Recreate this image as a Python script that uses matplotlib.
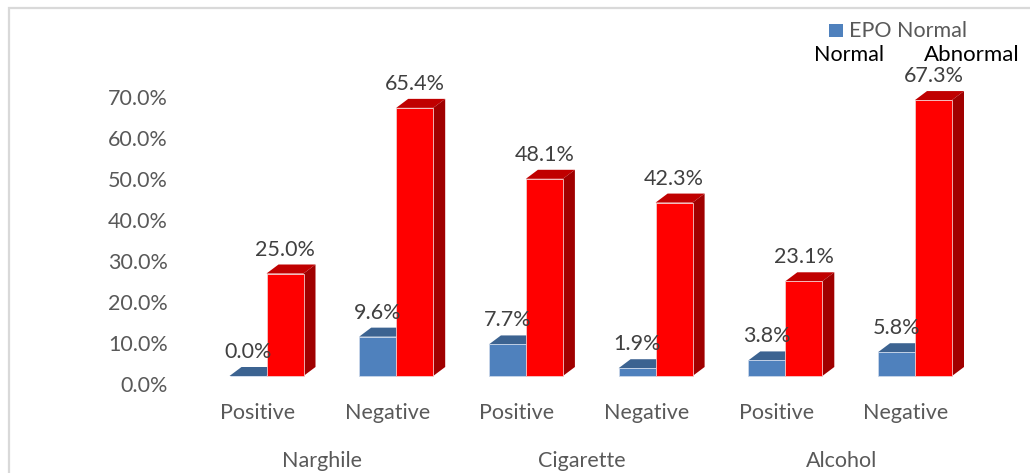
import matplotlib.pyplot as plt
from matplotlib.patches import Polygon, Rectangle
from matplotlib.transforms import ScaledTranslation

plt.rcParams['font.family'] = ['Lato', 'DejaVu Sans']

groups = ['Narghile', 'Cigarette', 'Alcohol']
categories = ['Positive', 'Negative', 'Positive', 'Negative', 'Positive', 'Negative']
normal = [0.0, 9.6, 7.7, 1.9, 3.8, 5.8]
abnormal = [25.0, 65.4, 48.1, 42.3, 23.1, 67.3]
yticks = [0, 10, 20, 30, 40, 50, 60, 70]

BLUE, BLUE_TOP = '#4F81BD', '#3C6391'
RED, RED_TOP, RED_SIDE = '#FF0000', '#C00000', '#A00000'
GREY, DARK = '#595959', '#404040'
FS = 15.5

W, H, DPI = 1030, 473, 100
fig = plt.figure(figsize=(W / DPI, H / DPI), dpi=DPI)

# axes box in pixels: left, right, top, bottom
L, R, T, B = 175, 1020, 15, 470
ax = fig.add_axes([L / W, 1 - B / H, (R - L) / W, (B - T) / H])

# scale: one category = 129.7 px, 1 % = 4.1 px, base of bars at y=376 px
px_x, px_y, x0, y0 = 129.7, 4.1, 266.5, 376
ax.set_xlim((L - x0) / px_x, (R - x0) / px_x)
ax.set_ylim((y0 - B) / px_y, (y0 - T) / px_y)

bw = 37 / px_x          # bar width
dx = 12 / px_x          # depth offset
dy = 9 / px_y

xs = list(range(len(categories)))


def draw_bar(x, h, front, top, side, edge):
    ax.add_patch(Polygon([(x, h), (x + bw, h), (x + bw + dx, h + dy), (x + dx, h + dy)],
                         closed=True, fc=top, ec='none', zorder=2))
    if side:
        ax.add_patch(Polygon([(x + bw, 0), (x + bw + dx, dy), (x + bw + dx, h + dy), (x + bw, h)],
                             closed=True, fc=side, ec='none', zorder=2))
    ax.bar(x, h, width=bw, align='edge', color=front, edgecolor=edge, lw=0.6, zorder=3)


for x, n, a in zip(xs, normal, abnormal):
    draw_bar(x - bw, n, BLUE, BLUE_TOP, None, '#C9D6EA')
    draw_bar(x, a, RED, RED_TOP, RED_SIDE, '#F4C8C8')

# value labels
for x, n, a in zip(xs, normal, abnormal):
    for cx, v in ((x - bw / 2, n), (x + bw / 2, a)):
        ax.annotate(f'{v:.1f}%', (cx, v), xytext=(0, 24 * 0.72), textcoords='offset points',
                    ha='center', va='center', fontsize=FS, color=DARK, zorder=5)

# category and group labels
for x, c in zip(xs, categories):
    ax.annotate(c, (x, 0), xytext=(-9 * 0.72, -37 * 0.72), textcoords='offset points',
                ha='center', va='center', fontsize=FS, color=GREY, annotation_clip=False)
for i, g in enumerate(groups):
    ax.annotate(g, (2 * i + 0.5, 0), xytext=(-9 * 0.72, -85 * 0.72), textcoords='offset points',
                ha='center', va='center', fontsize=FS, color=GREY, annotation_clip=False)

ax.set_yticks(yticks, [f'{v:.1f}%' for v in yticks])
ax.tick_params(axis='y', length=0, pad=5, labelsize=FS, labelcolor=GREY)
shift = ScaledTranslation(0, -8 / DPI, fig.dpi_scale_trans)
for lab in ax.get_yticklabels():
    lab.set_transform(lab.get_transform() + shift)
ax.set_xticks([])
for s in ax.spines.values():
    s.set_visible(False)
ax.patch.set_alpha(0)

# legend remnants
fig.patches.append(Rectangle((829 / W, 1 - 37.5 / H), 13.5 / W, 13.5 / H,
                             transform=fig.transFigure, fc=BLUE, ec='none'))
fig.text(849 / W, 1 - 31 / H, 'EPO Normal', fontsize=FS, color=GREY, va='center', ha='left')
fig.text(814 / W, 1 - 55 / H, 'Normal', fontsize=FS, color='black', va='center', ha='left')
fig.text(924 / W, 1 - 55 / H, 'Abnormal', fontsize=16, color='black', va='center', ha='left')

# chart frame
fig.patches.append(Rectangle((8.5 / W, -0.1), 1.1, 1.1 - 8.5 / H, transform=fig.transFigure,
                             fill=False, ec='#D9D9D9', lw=1.6))

fig.savefig('out.png', dpi=DPI)
